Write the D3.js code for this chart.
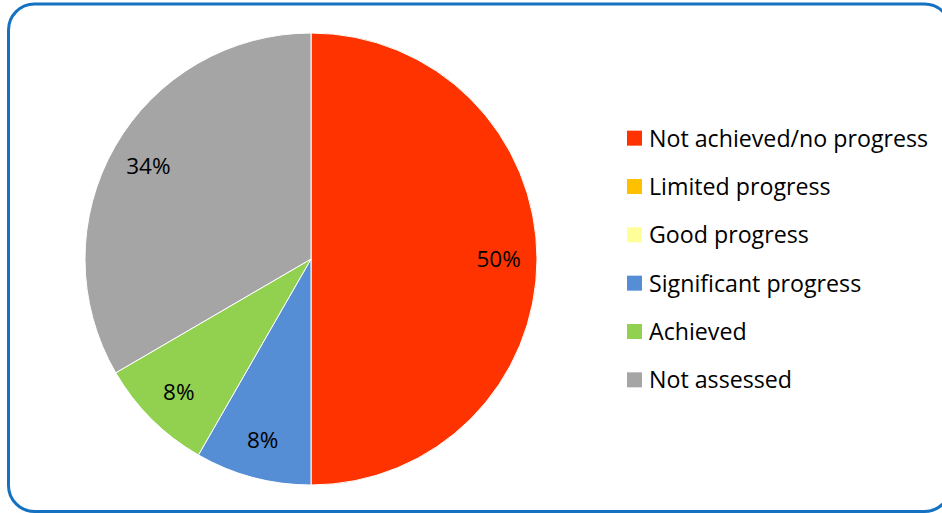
<!DOCTYPE html>
<html>
<head>
<meta charset="utf-8">
<script src="https://cdn.jsdelivr.net/npm/d3@7"></script>
<style>
  html, body { margin: 0; padding: 0; background: #fff; }
  svg { display: block; }
</style>
</head>
<body>
<svg id="chart" width="942" height="513"></svg>
<script>
const categories = ["Not achieved/no progress", "Limited progress", "Good progress", "Significant progress", "Achieved", "Not assessed"];
const values = [50, 0, 0, 8.3, 8.3, 33.4];
const valueLabels = ["50%", "", "", "8%", "8%", "34%"];
const colors = ["#FF3300", "#FFC000", "#FFFF99", "#558ED5", "#92D050", "#A5A5A5"];

const svg = d3.select("#chart");
const fontFamily = "'Open Sans', 'Noto Sans', sans-serif";

// frame
svg.append("rect")
  .attr("x", 8.5).attr("y", 4).attr("width", 942).attr("height", 507.5)
  .attr("rx", 26).attr("ry", 26)
  .attr("fill", "#fff").attr("stroke", "#1572C2").attr("stroke-width", 3);

const cx = 311, cy = 259, r = 226;
const g = svg.append("g").attr("transform", `translate(${cx},${cy})`);

const data = categories.map((c, i) => ({ name: c, value: values[i], label: valueLabels[i], color: colors[i] }));
const pie = d3.pie().sort(null).value(d => d.value).startAngle(0).endAngle(2 * Math.PI);
const arcs = pie(data);
const arc = d3.arc().innerRadius(0).outerRadius(r);
const labelArc = d3.arc().innerRadius(r * 0.83).outerRadius(r * 0.83);

g.selectAll("path.slice").data(arcs.filter(d => d.data.value > 0)).join("path")
  .attr("class", "slice")
  .attr("d", arc)
  .attr("fill", d => d.data.color)
  .attr("stroke", "#fff").attr("stroke-width", 1);

g.selectAll("text.lbl").data(arcs.filter(d => d.data.value > 0)).join("text")
  .attr("class", "lbl")
  .attr("transform", d => `translate(${labelArc.centroid(d)})`)
  .attr("text-anchor", "middle")
  .attr("dy", "0.36em")
  .attr("font-family", fontFamily)
  .attr("font-size", 22.5)
  .attr("fill", "#000")
  .text(d => d.data.label);

// legend
const legendY = d3.scaleBand().domain(categories).range([114, 404]);
const lg = svg.append("g");
const rows = lg.selectAll("g").data(data).join("g")
  .attr("transform", d => `translate(627,${legendY(d.name) + legendY.bandwidth() / 2})`);
rows.append("rect").attr("x", 0).attr("y", -7.5).attr("width", 15).attr("height", 15)
  .attr("fill", d => d.color);
rows.append("text").attr("x", 22).attr("dy", "0.36em")
  .attr("font-family", fontFamily).attr("font-size", 23.2).attr("fill", "#000")
  .text(d => d.name);
</script>
</body>
</html>
